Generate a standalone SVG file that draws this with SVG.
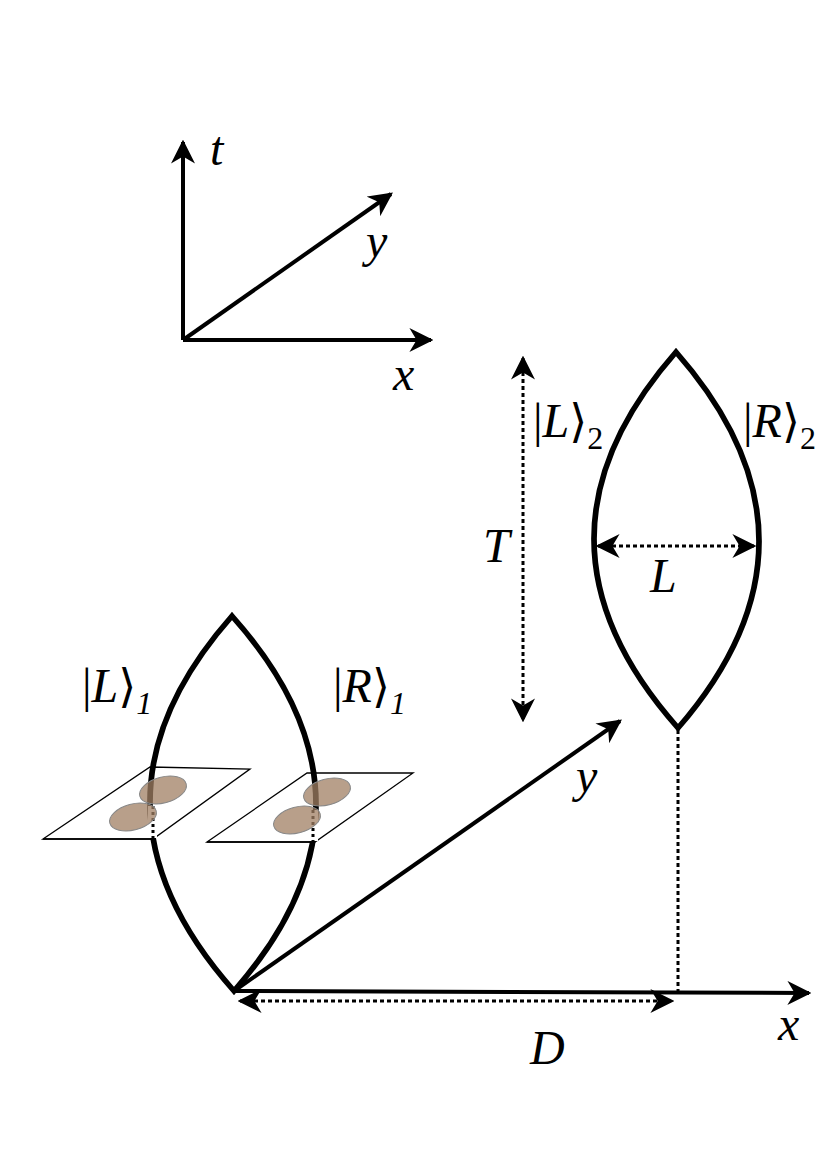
<svg xmlns="http://www.w3.org/2000/svg" width="831" height="1175" viewBox="0 0 831 1175">
<style>
.ax{stroke:#000;stroke-width:4;fill:none}
.lens{stroke:#000;stroke-width:5.5;fill:none}
.dot{stroke:#000;stroke-width:3;stroke-dasharray:4 3;fill:none}
.pl{stroke:#000;stroke-width:1.3;fill:#fff}
.blob{fill:#a07f63;fill-opacity:0.75;stroke:#888;stroke-width:1}
.mask{fill:#fff;stroke:none}
text{font-family:"Liberation Serif","Times New Roman","DejaVu Serif",serif;font-size:48px;fill:#000}
.it{font-style:italic}
.br{font-family:"DejaVu Serif",serif;font-size:46px}
</style>
<defs>
<marker id="ah" viewBox="0 0 10 10" refX="9" refY="5" markerWidth="6" markerHeight="6" markerUnits="strokeWidth" orient="auto-start-reverse"><path d="M0,0 L10,5 L0,10 L3,5 z" fill="#000"/></marker>
<marker id="ahs" viewBox="0 0 10 10" refX="9" refY="5" markerWidth="8" markerHeight="8" markerUnits="strokeWidth" orient="auto-start-reverse"><path d="M0,0 L10,5 L0,10 L3,5 z" fill="#000"/></marker>
</defs>
<rect width="831" height="1175" fill="#fff"/>
<g id="small-axes">
<line class="ax" x1="183" y1="340" x2="183" y2="142" marker-end="url(#ah)"/>
<line class="ax" x1="183" y1="340" x2="431" y2="340" marker-end="url(#ah)"/>
<line class="ax" x1="183" y1="340" x2="391" y2="194" marker-end="url(#ah)"/>
<text class="it" x="210" y="165">t</text>
<text class="it" x="366" y="257">y</text>
<text class="it" x="393" y="390">x</text>
</g>
<g id="connectors">
<line class="ax" x1="234" y1="991" x2="809" y2="993" marker-end="url(#ah)"/>
<line class="ax" x1="234" y1="991" x2="620" y2="721" marker-end="url(#ah)"/>
<line class="dot" x1="240" y1="1001" x2="672" y2="1001" marker-start="url(#ahs)" marker-end="url(#ahs)"/>
<line class="dot" x1="678" y1="730" x2="678" y2="991"/>
<line class="dot" x1="523" y1="358" x2="523" y2="720" marker-start="url(#ahs)" marker-end="url(#ahs)"/>
<line class="dot" x1="598" y1="546" x2="754" y2="546" marker-start="url(#ahs)" marker-end="url(#ahs)"/>
</g>
<g id="plane1">
<polygon class="pl" points="43,839 150,767 250,769 153,839"/>
</g>
<g id="plane2">
<polygon class="pl" points="207,842 307,773 413,773 315,842"/>
</g>
<g id="lens1">
<path class="lens" d="M232,616 Q67,803 234,991 Q399,803 232,616 Z"/>
</g>
<g id="plane-overlay">
<rect class="mask" x="148" y="806" width="9" height="32"/>
<rect class="mask" x="309" y="810" width="9" height="31"/>
<line class="dot" x1="153" y1="806" x2="153" y2="838" style="stroke-dasharray:3 3"/>
<line class="dot" x1="313" y1="810" x2="313" y2="841" style="stroke-dasharray:3 3"/>
<line stroke="#000" stroke-width="1.3" x1="43" y1="839" x2="153" y2="839"/>
<line stroke="#000" stroke-width="1.3" x1="207" y1="842" x2="315" y2="842"/>
<ellipse class="blob" cx="163" cy="790" rx="24" ry="13" transform="rotate(-15 163 790)"/>
<ellipse class="blob" cx="133" cy="817" rx="24" ry="13" transform="rotate(-15 133 817)"/>
<ellipse class="blob" cx="327" cy="792" rx="24" ry="13" transform="rotate(-15 327 792)"/>
<ellipse class="blob" cx="297" cy="820" rx="24" ry="13" transform="rotate(-15 297 820)"/>
</g>
<g id="lens2">
<path class="lens" d="M676,352 Q511,540 678,728 Q841,540 676,352 Z"/>
</g>
<g id="labels">
<text x="82" y="702">|<tspan class="it">L</tspan><tspan class="br">⟩</tspan><tspan class="it" font-size="32" dy="12">1</tspan></text>
<text x="333" y="702">|<tspan class="it">R</tspan><tspan class="br">⟩</tspan><tspan class="it" font-size="32" dy="12">1</tspan></text>
<text x="533" y="437">|<tspan class="it">L</tspan><tspan class="br">⟩</tspan><tspan font-size="32" dy="12">2</tspan></text>
<text x="743" y="437">|<tspan class="it">R</tspan><tspan class="br">⟩</tspan><tspan font-size="32" dy="12">2</tspan></text>
<text class="it" x="483" y="562">T</text>
<text class="it" x="650" y="592">L</text>
<text class="it" x="576" y="792">y</text>
<text class="it" x="778" y="1040">x</text>
<text class="it" x="530" y="1064">D</text>
</g>
</svg>
